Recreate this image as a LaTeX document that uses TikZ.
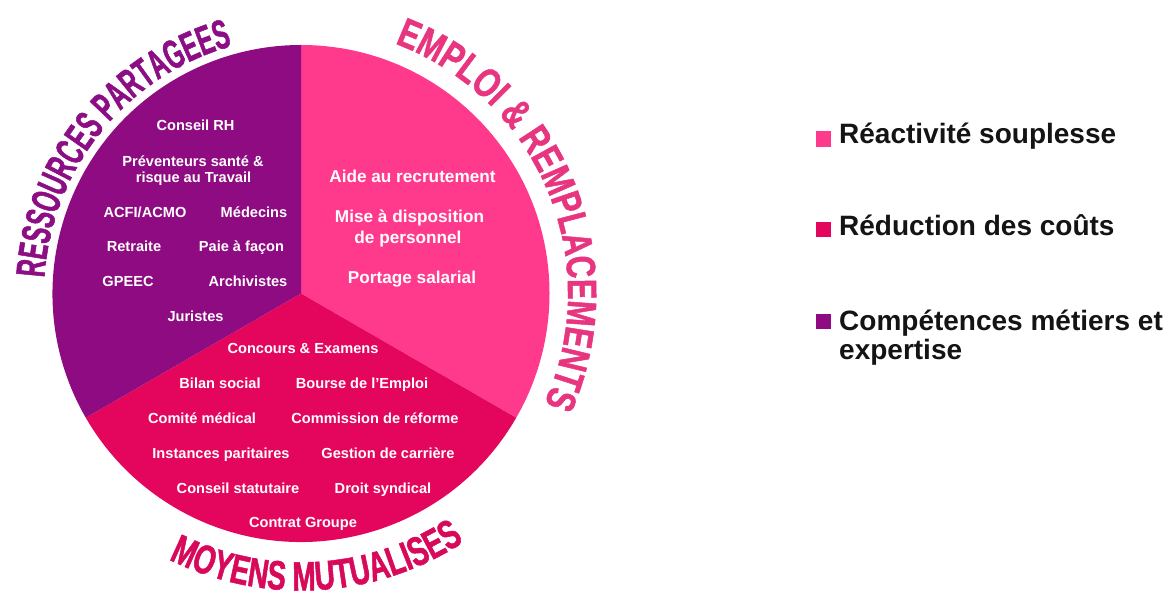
\documentclass[tikz,border=0pt]{standalone}
\usepackage{fontspec}
\setmainfont{Liberation Sans}
\newfontfamily\arcA[FakeStretch=0.575,FakeBold=1.2]{Liberation Sans}
\newfontfamily\arcB[FakeStretch=0.75,FakeBold=1.2]{Liberation Sans}
\newfontfamily\arcC[FakeStretch=0.68,FakeBold=1.2]{Liberation Sans}
\usetikzlibrary{decorations.text}
\definecolor{pinkc}{HTML}{FF3A8C}
\definecolor{crim}{HTML}{E4065C}
\definecolor{purp}{HTML}{8E0B82}
\definecolor{purpT}{HTML}{8C0E84}
\definecolor{pinkT}{HTML}{E8357F}
\definecolor{crimT}{HTML}{D8085A}
\definecolor{legT}{HTML}{141414}
\tikzset{
  lbl/.style={font=\bfseries\fontsize{14.6}{17}\selectfont, text=white, anchor=base, inner sep=0pt},
  lblbig/.style={lbl, font=\bfseries\fontsize{17.2}{20}\selectfont},
  legtext/.style={font=\bfseries\fontsize{28}{31}\selectfont, text=legT, anchor=base west, inner sep=0pt},
  legsq/.style={minimum width=15.5pt, minimum height=15.5pt, inner sep=0pt, draw=none},
}
\begin{document}
\begin{tikzpicture}[x=1pt,y=1pt]
\useasboundingbox (0,0) rectangle (1173,597);
\coordinate (C) at (301,303.5);
\def\R{248.5}
% sectors
\fill[pinkc] (C) -- ([shift={(90:\R)}]C) arc[start angle=90, end angle=-30, radius=\R] -- cycle;
\fill[crim] (C) -- ([shift={(-30:\R)}]C) arc[start angle=-30, end angle=-150, radius=\R] -- cycle;
\fill[purp] (C) -- ([shift={(210:\R)}]C) arc[start angle=210, end angle=90, radius=\R] -- cycle;
% curved titles
\path[decorate, decoration={text along path, text align=center, text color=purpT,
  text={|\arcA\bfseries\fontsize{41}{41}\selectfont|RESSOURCES PARTAGEES}}]
  ([shift={(176.5:257)}]C) arc[start angle=176.5, end angle=105.5, radius=257];
\path[decorate, decoration={text along path, text align=center, text color=pinkT,
  text={|\arcB\bfseries\fontsize{41}{41}\selectfont|EMPLOI {\&} REMPLACEMENTS}}]
  ([shift={(69:267)}]C) arc[start angle=69, end angle=-24, radius=267];
\path[decorate, decoration={text along path, text align=center, text color=crimT,
  text={|\arcC\bfseries\fontsize{41}{41}\selectfont|MOYENS MUTUALISES}}]
  ([shift={(243.8:297)}]C) arc[start angle=243.8, end angle=303.1, radius=297];
% purple sector texts
\node[lbl] (p1) at (195.5,466) {Conseil RH};
\node[lbl] (p2) at (193,430.3) {Préventeurs santé \&};
\node[lbl] (p3) at (193.5,414) {risque au Travail};
\node[lbl] (p4) at (145,379.3) {ACFI/ACMO};
\node[lbl] (p5) at (254,379.3) {Médecins};
\node[lbl] (p6) at (134,345.3) {Retraite};
\node[lbl] (p7) at (241.5,345.3) {Paie à façon};
\node[lbl] (p8) at (128,310) {GPEEC};
\node[lbl] (p9) at (248,310) {Archivistes};
\node[lbl] (p10) at (195.5,275) {Juristes};
% pink sector texts
\node[lblbig] (e1) at (412.5,414) {Aide au recrutement};
\node[lblbig] (e2) at (409.5,374) {Mise à disposition};
\node[lblbig] (e3) at (408,353) {de personnel};
\node[lblbig] (e4) at (412,313) {Portage salarial};
% crimson sector texts
\node[lbl] (m1) at (303,243) {Concours \& Examens};
\node[lbl] (m2) at (220,208) {Bilan social};
\node[lbl] (m3) at (362,208) {Bourse de l'Emploi};
\node[lbl] (m4) at (202,173) {Comité médical};
\node[lbl] (m5) at (375,173) {Commission de réforme};
\node[lbl] (m6) at (221,138) {Instances paritaires};
\node[lbl] (m7) at (388,138) {Gestion de carrière};
\node[lbl] (m8) at (238,103) {Conseil statutaire};
\node[lbl] (m9) at (383,103) {Droit syndical};
\node[lbl] (m10) at (303,69) {Contrat Groupe};
% legend
\node[legsq, fill=pinkc] (s1) at (823.5,458) {};
\node[legtext] (t1) at (839,453) {Réactivité souplesse};
\node[legsq, fill=crim] (s2) at (823.5,367.5) {};
\node[legtext] (t2) at (839,361) {Réduction des coûts};
\node[legsq, fill=purp] (s3) at (823.5,275.5) {};
\node[legtext] (t3) at (839,266) {Compétences métiers et};
\node[legtext] (t4) at (839,237) {expertise};
\end{tikzpicture}
\end{document}
